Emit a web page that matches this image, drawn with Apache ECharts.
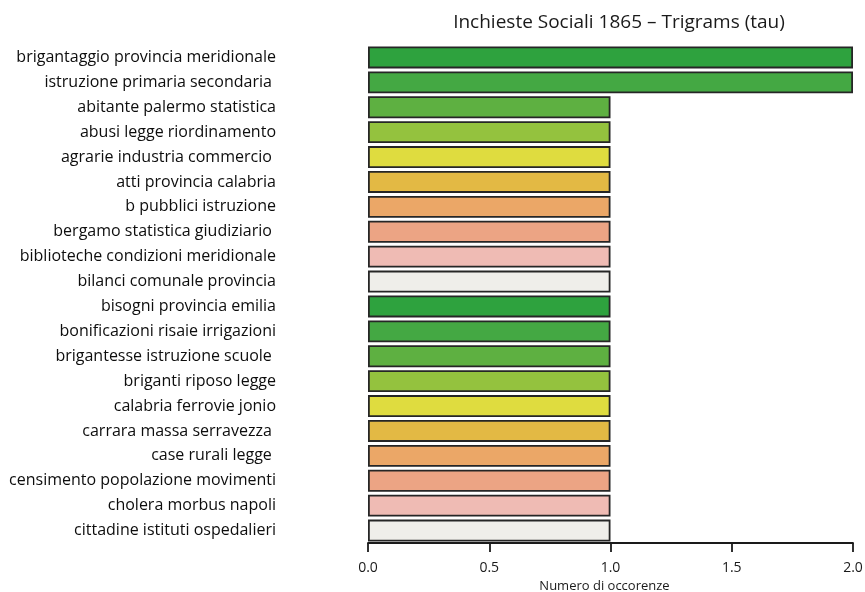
<!DOCTYPE html>
<html><head><meta charset="utf-8">
<script src="https://cdn.jsdelivr.net/npm/echarts@6/dist/echarts.min.js"></script>
<style>html,body{margin:0;padding:0;background:#fff}#c{width:865px;height:592px}</style>
</head><body><div id="c"></div>
<script>
const categories = [
  "brigantaggio provincia meridionale",
  "istruzione primaria secondaria ",
  "abitante palermo statistica",
  "abusi legge riordinamento",
  "agrarie industria commercio ",
  "atti provincia calabria",
  "b pubblici istruzione",
  "bergamo statistica giudiziario ",
  "biblioteche condizioni meridionale",
  "bilanci comunale provincia",
  "bisogni provincia emilia",
  "bonificazioni risaie irrigazioni",
  "brigantesse istruzione scuole ",
  "briganti riposo legge",
  "calabria ferrovie jonio",
  "carrara massa serravezza ",
  "case rurali legge ",
  "censimento popolazione movimenti",
  "cholera morbus napoli",
  "cittadine istituti ospedalieri"
];
const values = [2,2,1,1,1,1,1,1,1,1,1,1,1,1,1,1,1,1,1,1];
const palette = ["#2ea23e","#44a843","#5eb041","#94c23e","#dfdc3f","#e3b944","#eba767","#eca484","#efbbb4","#efeeea"];
const xTicks = [0, 0.5, 1.0, 1.5, 2.0];

const chart = echarts.init(document.getElementById('c'));
chart.setOption({
  backgroundColor: '#fff',
  animation: false,
  title: {
    text: 'Inchieste Sociali 1865 \u2013 Trigrams (tau)',
    left: 614, top: 8, textAlign: 'center',
    textStyle: {fontFamily: 'Open Sans', fontSize: 19, fontWeight: 'normal', color: '#1a1a1a'}
  },
  grid: {left: 368, right: 12, top: 45, bottom: 49, outerBoundsMode: 'none'},
  xAxis: {
    type: 'value', min: 0, max: 2, interval: 0.5,
    name: 'Numero di occorenze', nameLocation: 'middle', nameGap: 34,
    nameTextStyle: {fontFamily: 'Open Sans', fontSize: 13, color: '#1a1a1a', padding: [0, 12, 0, 0]},
    axisLine: {show: true, lineStyle: {color: '#1a1a1a', width: 1.8}},
    axisTick: {show: true, length: 9, lineStyle: {color: '#1a1a1a', width: 1.8}},
    splitLine: {show: false},
    axisLabel: {
      fontFamily: 'Open Sans', fontSize: 14, color: '#1a1a1a', margin: 18,
      formatter: v => xTicks.includes(v) ? v.toFixed(1) : ''
    }
  },
  yAxis: {
    type: 'category', data: categories, inverse: true,
    axisLine: {show: false}, axisTick: {show: false},
    axisLabel: {fontFamily: 'Open Sans', fontSize: 16, color: '#0d0d0d', margin: 92}
  },
  series: [{
    type: 'bar', data: values, barCategoryGap: '12%',
    itemStyle: {
      borderColor: '#262626', borderWidth: 1.8,
      color: p => palette[p.dataIndex % palette.length]
    }
  }]
});
</script></body></html>
